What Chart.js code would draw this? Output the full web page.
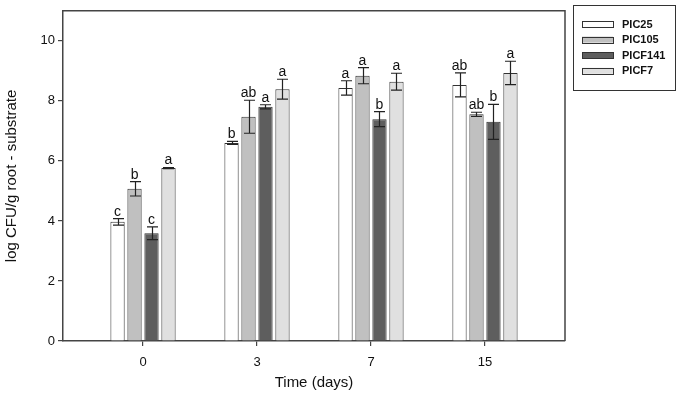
<!DOCTYPE html>
<html>
<head>
<meta charset="utf-8">
<script src="https://cdn.jsdelivr.net/npm/chart.js@4.4.1/dist/chart.umd.min.js"></script>
<style>
  html, body { margin: 0; padding: 0; background: #fff; }
  #wrap { width: 680px; height: 398px; }
</style>
</head>
<body>
<div id="wrap"><canvas id="chart" width="680" height="398"></canvas></div>
<script>
// data
const days = ['0', '3', '7', '15'];
const seriesNames = ['PIC25', 'PIC105', 'PICF141', 'PICF7'];
const pic25 = [3.97, 6.60, 8.43, 8.53];
const pic105 = [5.07, 7.47, 8.84, 7.55];
const picf141 = [3.59, 7.80, 7.39, 7.30];
const picf7 = [5.76, 8.39, 8.64, 8.93];
const pic25Err = [0.11, 0.05, 0.24, 0.40];
const pic105Err = [0.24, 0.55, 0.27, 0.07];
const picf141Err = [0.21, 0.07, 0.25, 0.58];
const picf7Err = [0.02, 0.33, 0.28, 0.39];
const pic25Letters = ['c', 'b', 'a', 'ab'];
const pic105Letters = ['b', 'ab', 'a', 'ab'];
const picf141Letters = ['c', 'a', 'b', 'b'];
const picf7Letters = ['a', 'a', 'a', 'a'];
const yTicks = [0, 2, 4, 6, 8, 10];

const fills = ['#ffffff', '#c0c0c0', '#5e5e5e', '#e0e0e0'];
const values = [pic25, pic105, picf141, picf7];
const errors = [pic25Err, pic105Err, picf141Err, picf7Err];
const letters = [pic25Letters, pic105Letters, picf141Letters, picf7Letters];

const FONT = '"Liberation Sans", Arial, sans-serif';

const errorBars = {
    id: 'errorBars',
    afterDatasetsDraw(chart) {
        const ctx = chart.ctx;
        const y = chart.scales.y;
        ctx.save();
        ctx.strokeStyle = '#222';
        ctx.lineWidth = 1.2;
        ctx.fillStyle = '#111';
        ctx.font = '14px ' + FONT;
        ctx.textAlign = 'center';
        ctx.textBaseline = 'alphabetic';
        chart.data.datasets.forEach((ds, di) => {
            const meta = chart.getDatasetMeta(di);
            meta.data.forEach((bar, i) => {
                const v = values[di][i];
                const e = errors[di][i];
                const top = y.getPixelForValue(v + e);
                const bot = y.getPixelForValue(v - e);
                const x = Math.round(bar.x) + 0.5;
                ctx.beginPath();
                ctx.moveTo(x, top);
                ctx.lineTo(x, bot);
                ctx.moveTo(x - 5.5, top);
                ctx.lineTo(x + 5.5, top);
                ctx.moveTo(x - 5.5, bot);
                ctx.lineTo(x + 5.5, bot);
                ctx.stroke();
                ctx.fillText(letters[di][i], bar.x, top - 3);
            });
        });
        ctx.restore();
    }
};

const frameAndLegend = {
    id: 'frameAndLegend',
    afterDraw(chart) {
        const ctx = chart.ctx;
        const a = chart.chartArea;
        ctx.save();
        // top + right of the plot frame
        ctx.strokeStyle = '#444';
        ctx.lineWidth = 1.5;
        ctx.beginPath();
        ctx.moveTo(a.left, a.top);
        ctx.lineTo(a.right, a.top);
        ctx.lineTo(a.right, a.bottom);
        ctx.stroke();

        // legend box
        ctx.lineWidth = 1;
        ctx.strokeStyle = '#333';
        ctx.strokeRect(573.5, 5.5, 102, 85);
        ctx.font = 'bold 11px ' + FONT;
        ctx.textAlign = 'left';
        ctx.textBaseline = 'middle';
        chart.data.datasets.forEach((ds, i) => {
            const cy = 24 + i * 15.6;
            ctx.fillStyle = ds.backgroundColor;
            ctx.fillRect(582, cy - 3, 31, 6);
            ctx.strokeStyle = '#333';
            ctx.strokeRect(582.5, Math.round(cy - 3) + 0.5, 31, 6);
            ctx.fillStyle = '#111';
            ctx.fillText(ds.label, 622, cy + 0.5);
        });
        ctx.restore();
    }
};

new Chart(document.getElementById('chart'), {
    type: 'bar',
    data: {
        datasets: seriesNames.map((name, di) => ({
            label: name,
            data: values[di].map((v, i) => ({ x: i, y: v })),
            backgroundColor: fills[di],
            borderColor: '#333',
            borderWidth: 1,
            categoryPercentage: 0.596,
            barPercentage: 0.84
        }))
    },
    options: {
        responsive: false,
        animation: false,
        layout: { padding: { top: 4, right: 115, left: 0, bottom: 0 } },
        plugins: {
            legend: { display: false },
            tooltip: { enabled: false }
        },
        scales: {
            x: {
                type: 'linear',
                offset: false,
                min: -0.702,
                max: 3.702,
                afterBuildTicks: (scale) => { scale.ticks = days.map((d, i) => ({ value: i })); },
                afterFit: (scale) => { scale.height = 57; },
                ticks: {
                    callback: (v) => days[v],
                    font: { size: 13, family: FONT },
                    color: '#111',
                    padding: 9,
                    maxRotation: 0
                },
                grid: { offset: false, drawOnChartArea: false, drawTicks: true, tickLength: 5, color: '#444', lineWidth: 1.2 },
                border: { color: '#444', width: 1.5 },
                title: {
                    display: true,
                    text: 'Time (days)',
                    font: { size: 15, family: FONT },
                    color: '#111',
                    padding: { top: 0, bottom: 6 }
                }
            },
            y: {
                min: 0,
                max: 11,
                afterBuildTicks: (scale) => { scale.ticks = yTicks.map(v => ({ value: v })); },
                afterFit: (scale) => { scale.width = 63; },
                ticks: {
                    font: { size: 13, family: FONT },
                    color: '#111',
                    padding: 3
                },
                grid: { drawOnChartArea: false, drawTicks: true, tickLength: 5, color: '#444', lineWidth: 1.2 },
                border: { color: '#444', width: 1.5 },
                title: {
                    display: true,
                    text: 'log CFU/g root - substrate',
                    font: { size: 15, family: FONT },
                    color: '#111',
                    padding: { top: 3, bottom: 0 }
                }
            }
        }
    },
    plugins: [errorBars, frameAndLegend]
});
</script>
</body>
</html>
